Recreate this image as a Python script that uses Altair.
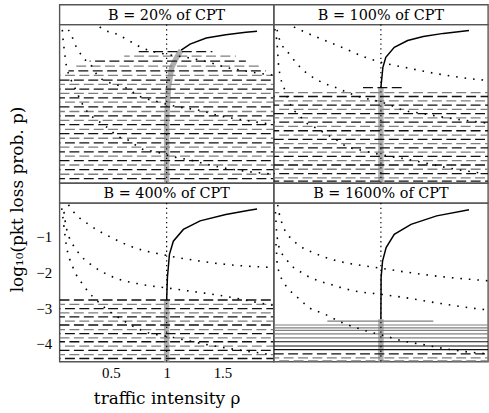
import altair as alt
import pandas as pd

# ---------------- data ----------------
PANELS = ["20", "100", "400", "1600"]
HEADER_TEXT = {
    "20": "B = 20% of CPT",
    "100": "B = 100% of CPT",
    "400": "B = 400% of CPT",
    "1600": "B = 1600% of CPT",
}
X_TICKS = [0.5, 1, 1.5]
Y_TICKS = [-1, -2, -3, -4]
X_DOMAIN = [0.04, 1.96]
Y_DOMAIN = [-4.5, -0.05]
RHO_CRIT = [1.0]

# solid loss curves (rho, log10 p)
SOLID_20_RHO = [1.13, 1.21, 1.355, 1.53, 1.71, 1.81]
SOLID_20_LOGP = [-0.77, -0.60, -0.43, -0.34, -0.27, -0.24]
SOLID_100_RHO = [1.0, 1.018, 1.044, 1.12, 1.24, 1.38, 1.56, 1.79]
SOLID_100_LOGP = [-1.82, -1.25, -0.97, -0.69, -0.50, -0.39, -0.30, -0.22]
SOLID_400_RHO = [1.0, 1.007, 1.025, 1.06, 1.15, 1.30, 1.53, 1.74, 1.81]
SOLID_400_LOGP = [-2.78, -2.14, -1.49, -1.12, -0.79, -0.55, -0.37, -0.25, -0.22]
SOLID_1600_RHO = [1.0, 1.002, 1.015, 1.047, 1.12, 1.27, 1.50, 1.79]
SOLID_1600_LOGP = [-3.31, -2.14, -1.68, -1.30, -0.93, -0.65, -0.41, -0.24]

# thick grey band (rho, log10 p)
BAND_20_RHO = [1.0, 1.0, 1.016, 1.046, 1.09, 1.13]
BAND_20_LOGP = [-4.5, -2.74, -1.81, -1.25, -0.97, -0.77]
BAND_100_RHO = [1.0, 1.0]
BAND_100_LOGP = [-4.5, -1.82]
BAND_400_RHO = [1.0, 1.0]
BAND_400_LOGP = [-4.5, -2.78]
BAND_1600_RHO = [1.0, 1.0]
BAND_1600_LOGP = [-4.5, -3.31]

# dotted curves, three per panel
DOT_20_A_RHO = [0.40, 0.44, 0.545, 0.66, 0.77, 0.87, 0.97, 1.24, 1.38, 1.53, 1.68, 1.83, 1.96]
DOT_20_A_LOGP = [-0.12, -0.20, -0.31, -0.50, -0.69, -0.80, -0.87, -1.01, -1.11, -1.25, -1.34, -1.42, -1.47]
DOT_20_B_RHO = [0.12, 0.146, 0.175, 0.21, 0.26, 0.32, 0.37, 0.51, 0.57, 0.65, 0.74, 0.9, 1.12, 1.3, 1.46, 1.59, 1.71, 1.85, 1.96]
DOT_20_B_LOGP = [-0.2, -0.34, -0.58, -0.78, -1.01, -1.18, -1.43, -1.71, -1.76, -1.85, -2.04, -2.2, -2.37, -2.46, -2.6, -2.68, -2.74, -2.81, -2.86]
DOT_20_C_RHO = [0.065, 0.07, 0.08, 0.09, 0.10, 0.12, 0.16, 0.21, 0.26, 0.32, 0.38, 0.46, 0.57, 0.66, 0.77, 0.9, 1.06, 1.21, 1.32, 1.46, 1.62, 1.8, 1.96]
DOT_20_C_LOGP = [-0.2, -0.41, -0.69, -0.95, -1.18, -1.43, -1.71, -2.05, -2.37, -2.6, -2.74, -2.92, -3.2, -3.3, -3.53, -3.62, -3.76, -3.85, -3.94, -4.04, -4.13, -4.2, -4.25]

DOT_100_A_RHO = [0.22, 0.36, 0.5, 0.68, 0.86, 1.0, 1.21, 1.5, 1.80, 1.96]
DOT_100_A_LOGP = [-0.12, -0.32, -0.50, -0.73, -0.97, -1.11, -1.25, -1.43, -1.57, -1.62]
DOT_100_B_RHO = [0.07, 0.085, 0.19, 0.29, 0.44, 0.62, 0.77, 1.05, 1.21, 1.36, 1.62, 1.86, 1.96]
DOT_100_B_LOGP = [-0.2, -0.41, -0.92, -1.29, -1.62, -1.85, -2.04, -2.27, -2.46, -2.54, -2.68, -2.78, -2.82]
DOT_100_C_RHO = [0.05, 0.07, 0.085, 0.14, 0.21, 0.27, 0.32, 0.40, 0.53, 0.61, 0.68, 0.83, 1.0, 1.27, 1.65, 1.92]
DOT_100_C_LOGP = [-0.18, -0.6, -1.25, -1.9, -2.41, -2.6, -2.78, -2.92, -3.16, -3.30, -3.45, -3.58, -3.7, -3.85, -4.1, -4.23]

DOT_400_A_RHO = [0.12, 0.146, 0.32, 0.5, 0.70, 1.0, 1.3, 1.59, 1.9, 1.96]
DOT_400_A_LOGP = [-0.1, -0.22, -0.69, -1.01, -1.29, -1.52, -1.68, -1.79, -1.85, -1.86]
DOT_400_B_RHO = [0.08, 0.10, 0.2, 0.32, 0.5, 0.77, 1.0, 1.3, 1.59, 1.9, 1.96]
DOT_400_B_LOGP = [-0.3, -0.73, -1.40, -1.77, -2.10, -2.33, -2.43, -2.56, -2.70, -2.89, -2.92]
DOT_400_C_RHO = [0.06, 0.07, 0.10, 0.16, 0.26, 0.41, 0.62, 0.79, 1.06, 1.36, 1.94]
DOT_400_C_LOGP = [-0.2, -0.45, -1.21, -1.85, -2.38, -2.89, -3.36, -3.64, -3.82, -4.02, -4.3]

DOT_1600_A_RHO = [0.075, 0.088, 0.11, 0.14, 0.19, 0.25, 0.32, 0.40, 0.48, 0.55, 0.63, 0.71, 1.0, 1.21, 1.50, 1.80, 1.96]
DOT_1600_A_LOGP = [-0.1, -0.33, -0.58, -0.82, -1.03, -1.2, -1.34, -1.45, -1.55, -1.62, -1.69, -1.74, -1.88, -1.98, -2.10, -2.19, -2.23]
DOT_1600_B_RHO = [0.055, 0.06, 0.065, 0.075, 0.095, 0.14, 0.19, 0.26, 0.33, 0.40, 0.48, 0.56, 0.64, 0.77, 1.0, 1.21, 1.50, 1.80, 1.96]
DOT_1600_B_LOGP = [-0.3, -0.58, -0.84, -1.1, -1.36, -1.57, -1.78, -1.94, -2.08, -2.18, -2.27, -2.34, -2.42, -2.52, -2.61, -2.70, -2.85, -2.99, -3.05]
DOT_1600_C_RHO = [0.06, 0.065, 0.07, 0.088, 0.12, 0.17, 0.23, 0.29, 0.32, 0.5, 0.65, 0.81, 1.04, 1.2, 1.38, 1.62, 1.79, 1.96]
DOT_1600_C_LOGP = [-1.2, -1.45, -1.73, -1.99, -2.23, -2.45, -2.64, -2.79, -2.89, -3.17, -3.4, -3.58, -3.78, -3.92, -4.02, -4.16, -4.23, -4.28]

# dashed horizontal lines: (log10 p, rho start, rho end) for the partial ones,
# plain levels for those spanning the whole panel
DASH_20_PARTIAL = [(-0.81, 0.75, 1.41), (-0.94, 0.62, 1.62), (-1.08, 0.31, 1.71),
                   (-1.22, 0.19, 1.83), (-1.35, 0.12, 1.89)]
DASH_20_FULL = [-1.48, -1.61, -1.73, -1.86, -1.98, -2.11, -2.23, -2.36, -2.49, -2.61,
                -2.74, -2.86, -2.99, -3.11, -3.24, -3.37, -3.49, -3.62, -3.74, -3.87,
                -3.99, -4.12, -4.25, -4.37]
DASH_100_PARTIAL = [(-1.82, 0.84, 1.19)]
DASH_100_FULL = [-1.96, -2.07, -2.19, -2.31, -2.43, -2.55, -2.67, -2.79, -2.91, -3.03,
                 -3.15, -3.27, -3.39, -3.51, -3.63, -3.75, -3.87, -3.99, -4.11, -4.23,
                 -4.35, -4.44]
DASH_400_PARTIAL = []
DASH_400_FULL = [-2.77, -2.89, -3.01, -3.13, -3.24, -3.36, -3.47, -3.60, -3.71, -3.83,
                 -3.94, -4.06, -4.18, -4.30, -4.41]
DASH_1600_PARTIAL = []
DASH_1600_FULL = [-4.28, -4.39, -4.48]

# solid horizontal lines (only the 1600% panel)
HSOLID_1600_Y = [-3.36, -3.47, -3.55, -3.62, -3.72, -3.83, -3.94, -4.06, -4.16]
HSOLID_1600_X0 = [0.52, 0.04, 0.04, 0.04, 0.04, 0.04, 0.04, 0.04, 0.04]
HSOLID_1600_X1 = [1.47, 1.96, 1.96, 1.96, 1.96, 1.96, 1.96, 1.96, 1.96]
HSOLID_1600_TONE = ["g", "g", "g", "g", "g", "g", "k", "k", "k"]

# ---------------- assemble tables ----------------
SOLID = {"20": (SOLID_20_RHO, SOLID_20_LOGP), "100": (SOLID_100_RHO, SOLID_100_LOGP),
         "400": (SOLID_400_RHO, SOLID_400_LOGP), "1600": (SOLID_1600_RHO, SOLID_1600_LOGP)}
BAND = {"20": (BAND_20_RHO, BAND_20_LOGP), "100": (BAND_100_RHO, BAND_100_LOGP),
        "400": (BAND_400_RHO, BAND_400_LOGP), "1600": (BAND_1600_RHO, BAND_1600_LOGP)}
DOTS = {
    "20": [(DOT_20_A_RHO, DOT_20_A_LOGP), (DOT_20_B_RHO, DOT_20_B_LOGP), (DOT_20_C_RHO, DOT_20_C_LOGP)],
    "100": [(DOT_100_A_RHO, DOT_100_A_LOGP), (DOT_100_B_RHO, DOT_100_B_LOGP), (DOT_100_C_RHO, DOT_100_C_LOGP)],
    "400": [(DOT_400_A_RHO, DOT_400_A_LOGP), (DOT_400_B_RHO, DOT_400_B_LOGP), (DOT_400_C_RHO, DOT_400_C_LOGP)],
    "1600": [(DOT_1600_A_RHO, DOT_1600_A_LOGP), (DOT_1600_B_RHO, DOT_1600_B_LOGP), (DOT_1600_C_RHO, DOT_1600_C_LOGP)],
}
DASH = {"20": (DASH_20_PARTIAL, DASH_20_FULL), "100": (DASH_100_PARTIAL, DASH_100_FULL),
        "400": (DASH_400_PARTIAL, DASH_400_FULL), "1600": (DASH_1600_PARTIAL, DASH_1600_FULL)}


def curve_df(rho, logp, cid="c"):
    return pd.DataFrame({"rho": rho, "logp": logp, "i": list(range(len(rho))), "cid": cid})


def dash_df(key):
    partial, full = DASH[key]
    rows = [(y, a, b) for (y, a, b) in partial] + [(y, X_DOMAIN[0], X_DOMAIN[1]) for y in full]
    if key == "1600":
        tones = ["k", "g", "g"]
    else:
        tones = ["k" if i % 2 == 0 else "g" for i in range(len(rows))]
    return pd.DataFrame({
        "y": [r[0] for r in rows], "x0": [r[1] for r in rows], "x1": [r[2] for r in rows],
        "tone": tones, "phase": [i % 3 for i in range(len(rows))],
    })


xs = alt.Scale(domain=X_DOMAIN, nice=False, zero=False)
ys = alt.Scale(domain=Y_DOMAIN, nice=False, zero=False)
tone_scale = alt.Scale(domain=["k", "g"], range=["#111111", "#7f7f7f"])

W, H, HH = 216, 160, 20


def panel(key, xaxis, yaxis):
    def X(f):
        return alt.X(f"{f}:Q", scale=xs, axis=xaxis)

    def Y(f):
        return alt.Y(f"{f}:Q", scale=ys, axis=yaxis)

    layers = []
    layers.append(
        alt.Chart(curve_df(*BAND[key])).mark_line(color="#b0b0b0", strokeWidth=5.5, clip=True)
        .encode(x=X("rho"), y=Y("logp"), order=alt.Order("i:Q"))
    )
    ddf = dash_df(key)
    for ph in range(3):
        sub = ddf[ddf.phase == ph]
        if len(sub) == 0:
            continue
        layers.append(
            alt.Chart(sub).mark_rule(strokeDash=[10, 4.5], strokeDashOffset=ph * 4.5,
                                     strokeWidth=1.3, clip=True)
            .encode(x=X("x0"), x2=alt.X2("x1"), y=Y("y"),
                    color=alt.Color("tone:N", scale=tone_scale, legend=None))
        )
    if key == "1600":
        hdf = pd.DataFrame({"y": HSOLID_1600_Y, "x0": HSOLID_1600_X0, "x1": HSOLID_1600_X1,
                            "tone": HSOLID_1600_TONE})
        layers.append(
            alt.Chart(hdf).mark_rule(strokeWidth=1.2, clip=True)
            .encode(x=X("x0"), x2=alt.X2("x1"), y=Y("y"),
                    color=alt.Color("tone:N", scale=tone_scale, legend=None))
        )
    layers.append(
        alt.Chart(pd.DataFrame({"rho": RHO_CRIT})).mark_rule(color="black", strokeWidth=1.2,
                                                              strokeDash=[1.3, 3.5])
        .encode(x=X("rho"))
    )
    dots = pd.concat([curve_df(r, l, f"d{j}") for j, (r, l) in enumerate(DOTS[key])])
    layers.append(
        alt.Chart(dots).mark_line(color="black", strokeWidth=1.6, strokeDash=[1.6, 7],
                                  interpolate="monotone", clip=True)
        .encode(x=X("rho"), y=Y("logp"), detail="cid:N")
    )
    layers.append(
        alt.Chart(curve_df(*SOLID[key])).mark_line(color="black", strokeWidth=1.5, clip=True)
        .encode(x=X("rho"), y=Y("logp"), order=alt.Order("i:Q"))
    )
    return alt.layer(*layers).properties(width=W, height=H)


def header(key):
    return (
        alt.Chart(pd.DataFrame({"t": [HEADER_TEXT[key]]}))
        .mark_text(font="DejaVu Serif", fontSize=14.5, align="center", baseline="middle", color="black")
        .encode(text="t:N", x=alt.value(W / 2), y=alt.value(HH / 2 + 1))
        .properties(width=W, height=HH)
    )


x_axis = alt.Axis(values=X_TICKS, format="~g", title="traffic intensity ρ",
                  labelFont="Liberation Serif", labelFontSize=15, labelColor="black",
                  labelPadding=4, ticks=False, domain=False, grid=False,
                  titleFont="DejaVu Serif", titleFontSize=17, titleFontWeight="normal",
                  titleColor="black", titlePadding=10)
y_axis = alt.Axis(values=Y_TICKS, title="log₁₀(pkt loss prob. p)",
                  labelFont="Liberation Serif", labelFontSize=15, labelColor="black",
                  labelPadding=8, ticks=False, domain=False, grid=False,
                  titleFont="DejaVu Serif", titleFontSize=17, titleFontWeight="normal",
                  titleColor="black", titleAngle=270, titleAlign="center",
                  titleBaseline="top", titleX=-50, titleY=-4)

chart = alt.concat(
    header("20"), header("100"),
    panel("20", None, None), panel("100", None, None),
    header("400"), header("1600"),
    panel("400", x_axis, y_axis), panel("1600", None, None),
    columns=2, spacing=0, bounds="flush", align="each",
).properties(
    padding={"left": 8, "top": 2, "right": 0, "bottom": 0},
    background="white",
).configure_view(stroke="#555555", strokeWidth=1.4)

chart.save("out.html", embed_options={"renderer": "svg", "actions": False})
